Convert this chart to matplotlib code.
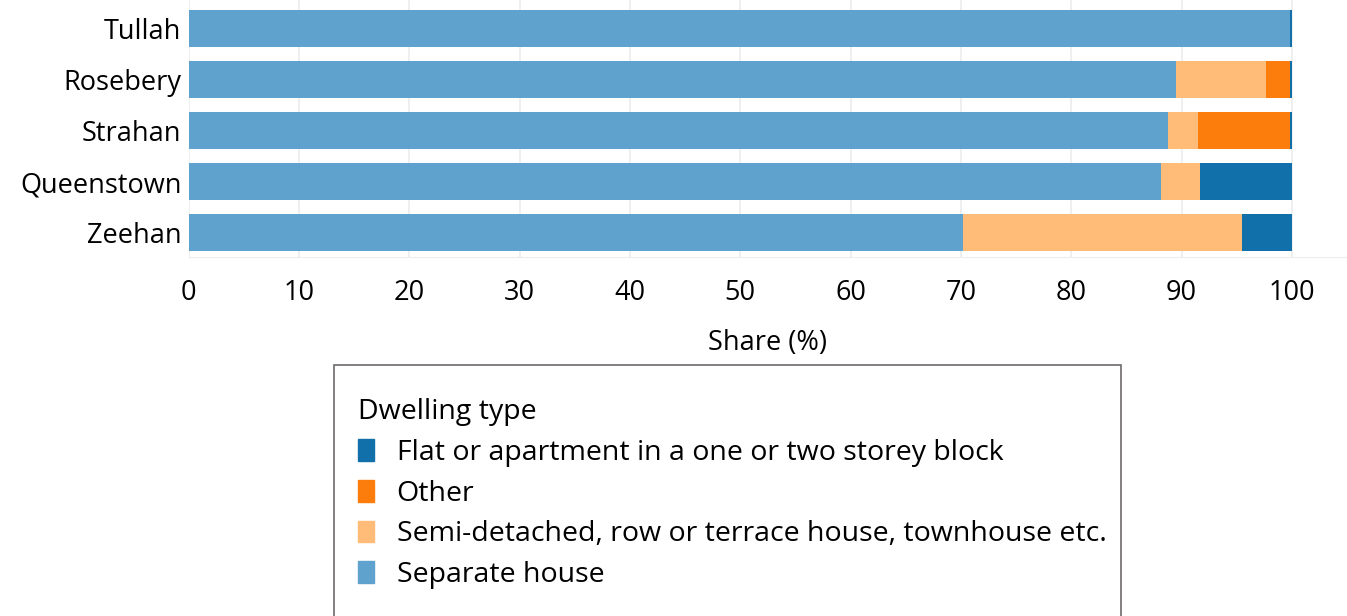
import matplotlib.pyplot as plt
from matplotlib.patches import Rectangle, Patch
import numpy as np

plt.rcParams['font.family'] = ['Open Sans', 'DejaVu Sans']

# データ（上から下の順）
towns = ['Tullah', 'Rosebery', 'Strahan', 'Queenstown', 'Zeehan']
separate = [99.8, 89.5, 88.8, 88.1, 70.2]
semi = [0.0, 8.2, 2.7, 3.6, 25.3]
other = [0.0, 2.1, 8.3, 0.0, 0.0]
flat = [0.2, 0.2, 0.2, 8.3, 4.5]

series = [
    ('Separate house', separate, '#5fa2ce'),
    ('Semi-detached, row or terrace house, townhouse etc.', semi, '#ffbc79'),
    ('Other', other, '#fc7d0b'),
    ('Flat or apartment in a one or two storey block', flat, '#1170aa'),
]

fig = plt.figure(figsize=(13.47, 6.16), dpi=100)
ax = fig.add_axes([188.5 / 1347, 1 - 257 / 616, 1 - 188.5 / 1347, 257 / 616])

y = np.arange(len(towns))[::-1]
left = np.zeros(len(towns))
for name, vals, col in series:
    ax.barh(y, vals, left=left, height=0.73, color=col, zorder=2)
    left += np.array(vals)

ax.set_xlim(0, 105)
ax.set_ylim(-0.48, 4.56)
ax.set_xticks(range(0, 101, 10))
ax.set_yticks(y)
ax.set_yticklabels(towns)
ax.tick_params(axis='both', length=0, labelsize=19.5, colors='black')
ax.tick_params(axis='y', pad=5)
ax.tick_params(axis='x', pad=16)
ax.grid(axis='x', color='#ececec', linewidth=1.2, zorder=0)
for s in ['top', 'right', 'left']:
    ax.spines[s].set_visible(False)
ax.spines['bottom'].set_color('#ececec')
ax.set_xlabel('Share (%)', fontsize=19.5, labelpad=16)

# 凡例の枠
fig.patches.append(Rectangle((334 / 1347, -0.1), (1121 - 334) / 1347, 1 - 365 / 616 + 0.1,
                             transform=fig.transFigure, facecolor='white',
                             edgecolor='#6e6a6a', linewidth=1.2))

handles = [Patch(color=c, label=n) for n, _, c in series[::-1]]
leg = fig.legend(handles=handles, title='Dwelling type', loc='upper left',
                 bbox_to_anchor=(358 / 1347, 1 - 398 / 616), frameon=False, borderpad=0,
                 borderaxespad=0,
                 fontsize=20.5, title_fontsize=20.5, handlelength=0.56, handleheight=0.8,
                 handletextpad=0.8, labelspacing=0.45, alignment='left')

fig.savefig('out.png', dpi=100)
